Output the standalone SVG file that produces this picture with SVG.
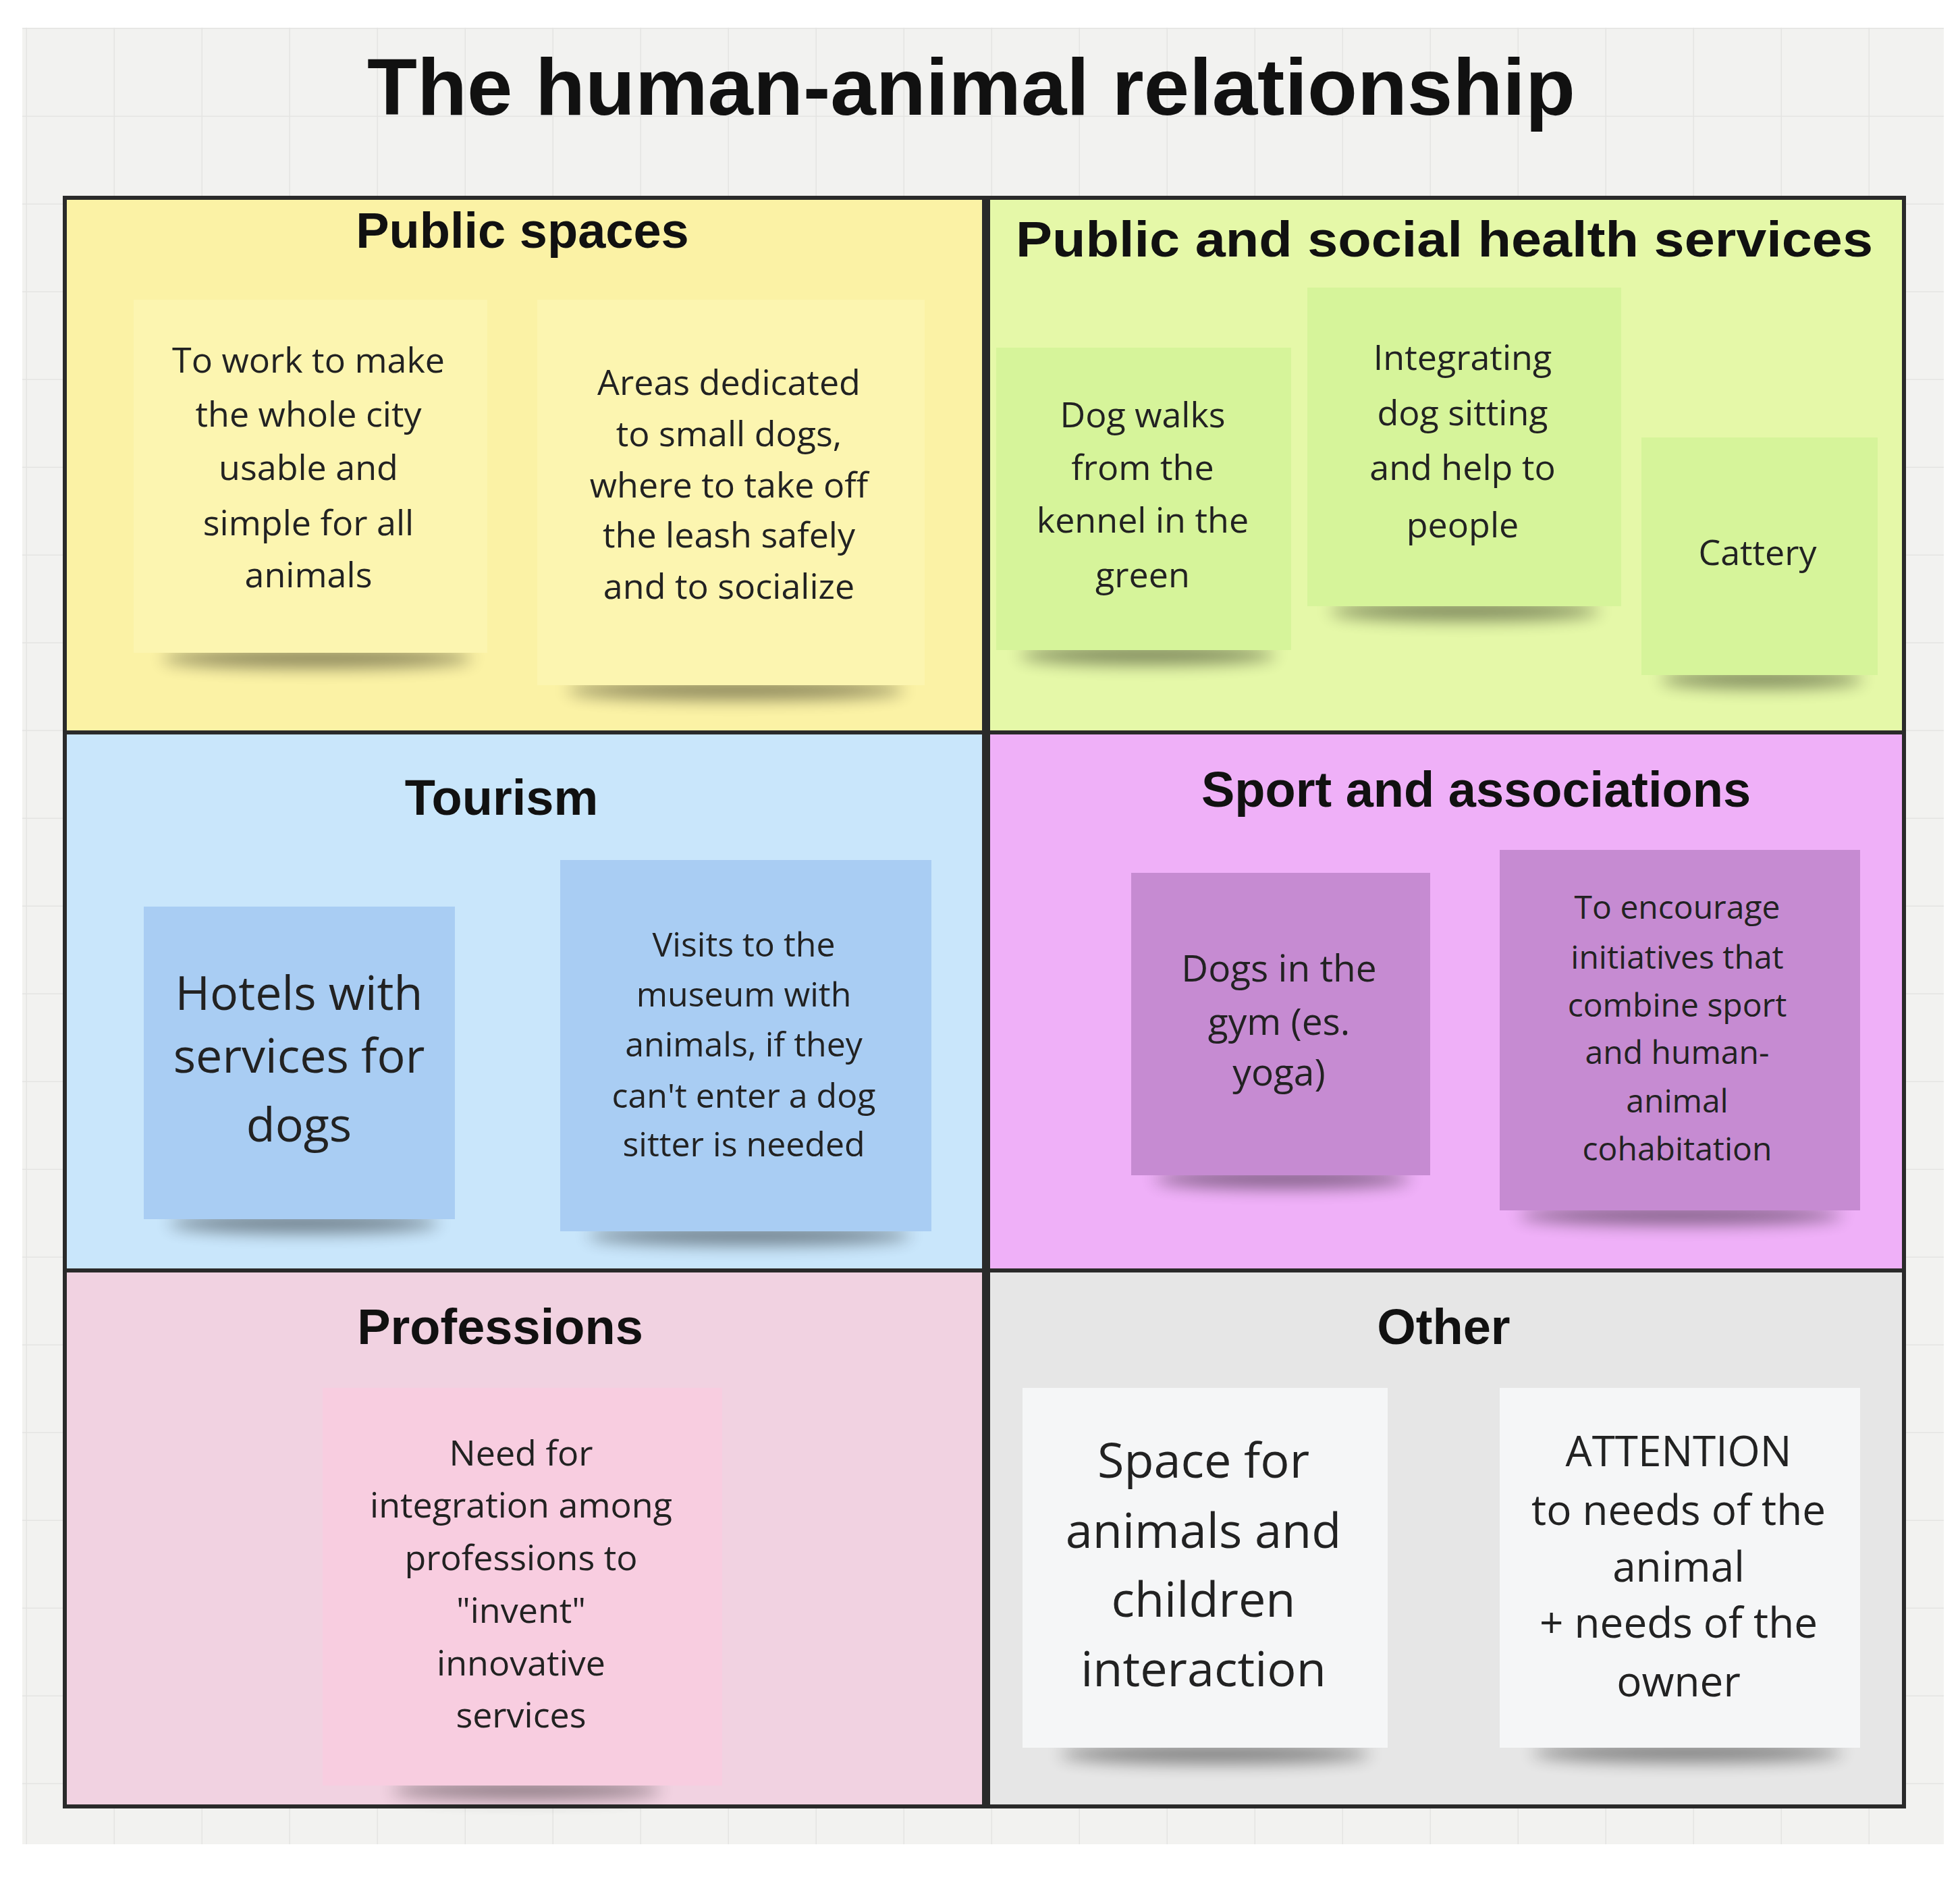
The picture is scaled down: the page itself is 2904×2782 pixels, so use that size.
<svg xmlns="http://www.w3.org/2000/svg" width="2904" height="2782" viewBox="0 0 2904 2782">
<defs>
<filter id="blur" x="-20%" y="-200%" width="140%" height="500%"><feGaussianBlur stdDeviation="12"/></filter>
<pattern id="grid" width="130" height="130" patternUnits="userSpaceOnUse" x="40" y="43"><path d="M130 0V130H0" fill="none" stroke="#e4e4e2" stroke-width="3"/></pattern>
</defs>
<style>
.h{font-family:"Liberation Sans",Arial,sans-serif;font-weight:bold;fill:#111;text-anchor:middle}
.t{font-family:"Open Sans","Noto Sans",sans-serif;fill:#222;text-anchor:middle}
.panel{stroke:#2a2a2a;stroke-width:6}
.sh{fill:#000;opacity:0.45;filter:url(#blur)}
</style>
<rect width="2904" height="2782" fill="#fff"/>
<rect x="33" y="41" width="2847" height="2691" fill="#f2f2f0"/>
<rect x="33" y="41" width="2847" height="2691" fill="url(#grid)"/>
<text class="h" x="1439" y="170" font-size="118" textLength="1790" lengthAdjust="spacingAndGlyphs">The human-animal relationship</text>

<g id="public-spaces">
<rect class="panel" x="96" y="293" width="1362" height="792" fill="#fbf2a5"/>
<text class="h" x="774" y="367" font-size="74">Public spaces</text>
<ellipse class="sh" cx="470" cy="975" rx="230" ry="14"/>
<rect x="198" y="444" width="524" height="523" fill="#fcf5b0"/>
<g class="t" font-size="52"><text x="457" y="552">To work to make</text><text x="457" y="632">the whole city</text><text x="457" y="711">usable and</text><text x="457" y="793">simple for all</text><text x="457" y="870">animals</text></g>
<ellipse class="sh" cx="1090" cy="1022" rx="250" ry="14"/>
<rect x="796" y="444" width="574" height="571" fill="#fcf5b0"/>
<g class="t" font-size="52"><text x="1080" y="585">Areas dedicated</text><text x="1080" y="661">to small dogs,</text><text x="1080" y="737">where to take off</text><text x="1080" y="811">the leash safely</text><text x="1080" y="887">and to socialize</text></g>
</g>

<g id="health-services">
<rect class="panel" x="1464" y="293" width="1357" height="792" fill="#e5f8a8"/>
<text class="h" x="2140" y="380" font-size="74" textLength="1270" lengthAdjust="spacingAndGlyphs">Public and social health services</text>
<ellipse class="sh" cx="1700" cy="970" rx="190" ry="14"/>
<rect x="1476" y="515" width="437" height="448" fill="#d6f49a"/>
<g class="t" font-size="52"><text x="1693" y="633">Dog walks</text><text x="1693" y="711">from the</text><text x="1693" y="789">kennel in the</text><text x="1693" y="870">green</text></g>
<ellipse class="sh" cx="2170" cy="905" rx="200" ry="14"/>
<rect x="1937" y="426" width="465" height="472" fill="#d6f49a"/>
<g class="t" font-size="52"><text x="2167" y="548">Integrating</text><text x="2167" y="630">dog sitting</text><text x="2167" y="711">and help to</text><text x="2167" y="796">people</text></g>
<ellipse class="sh" cx="2610" cy="1006" rx="150" ry="13"/>
<rect x="2432" y="648" width="350" height="352" fill="#d6f49a"/>
<text class="t" font-size="52" x="2604" y="837">Cattery</text>
</g>

<g id="tourism">
<rect class="panel" x="96" y="1085" width="1362" height="797" fill="#c9e6fb"/>
<text class="h" x="743" y="1207" font-size="74">Tourism</text>
<ellipse class="sh" cx="450" cy="1812" rx="200" ry="14"/>
<rect x="213" y="1343" width="461" height="463" fill="#a9cdf3"/>
<g class="t" font-size="70"><text x="443" y="1496">Hotels with</text><text x="443" y="1589">services for</text><text x="443" y="1691">dogs</text></g>
<ellipse class="sh" cx="1110" cy="1830" rx="240" ry="14"/>
<rect x="830" y="1274" width="550" height="550" fill="#a9cdf3"/>
<g class="t" font-size="50"><text x="1102" y="1417">Visits to the</text><text x="1102" y="1491">museum with</text><text x="1102" y="1565">animals, if they</text><text x="1102" y="1641">can't enter  a dog</text><text x="1102" y="1713">sitter is needed</text></g>
</g>

<g id="sport">
<rect class="panel" x="1464" y="1085" width="1357" height="797" fill="#efb0f8"/>
<text class="h" x="2187" y="1195" font-size="74">Sport and associations</text>
<ellipse class="sh" cx="1900" cy="1746" rx="190" ry="14"/>
<rect x="1676" y="1293" width="443" height="448" fill="#c68bd2"/>
<g class="t" font-size="55"><text x="1895" y="1454">Dogs in the</text><text x="1895" y="1533">gym (es.</text><text x="1895" y="1608">yoga)</text></g>
<ellipse class="sh" cx="2490" cy="1800" rx="240" ry="14"/>
<rect x="2222" y="1259" width="534" height="534" fill="#c68bd2"/>
<g class="t" font-size="48"><text x="2485" y="1361">To encourage</text><text x="2485" y="1435">initiatives that</text><text x="2485" y="1506">combine sport</text><text x="2485" y="1576">and human-</text><text x="2485" y="1648">animal</text><text x="2485" y="1719">cohabitation</text></g>
</g>

<g id="professions">
<rect class="panel" x="96" y="1882" width="1362" height="794" fill="#f1d2e1"/>
<text class="h" x="741" y="1991" font-size="74">Professions</text>
<ellipse class="sh" cx="780" cy="2652" rx="200" ry="12"/>
<rect x="478" y="2056" width="592" height="589" fill="#f8cde0"/>
<g class="t" font-size="52"><text x="772" y="2171">Need for</text><text x="772" y="2248">integration among</text><text x="772" y="2326">professions to</text><text x="772" y="2404">"invent"</text><text x="772" y="2482">innovative</text><text x="772" y="2559">services</text></g>
</g>

<g id="other">
<rect class="panel" x="1464" y="1882" width="1357" height="794" fill="#e6e6e6"/>
<text class="h" x="2139" y="1991" font-size="74">Other</text>
<ellipse class="sh" cx="1800" cy="2598" rx="230" ry="14"/>
<rect x="1515" y="2056" width="541" height="533" fill="#f5f6f7"/>
<g class="t" font-size="72"><text x="1783" y="2189">Space for</text><text x="1783" y="2293">animals and</text><text x="1783" y="2395">children</text><text x="1783" y="2498">interaction</text></g>
<ellipse class="sh" cx="2500" cy="2596" rx="230" ry="14"/>
<rect x="2222" y="2056" width="534" height="533" fill="#f5f6f7"/>
<g class="t" font-size="62"><text x="2487" y="2172">ATTENTION</text><text x="2487" y="2259">to needs of the</text><text x="2487" y="2343">animal</text><text x="2487" y="2426">+ needs of the</text><text x="2487" y="2513">owner</text></g>
</g>
<g id="connectors"/>
</svg>
